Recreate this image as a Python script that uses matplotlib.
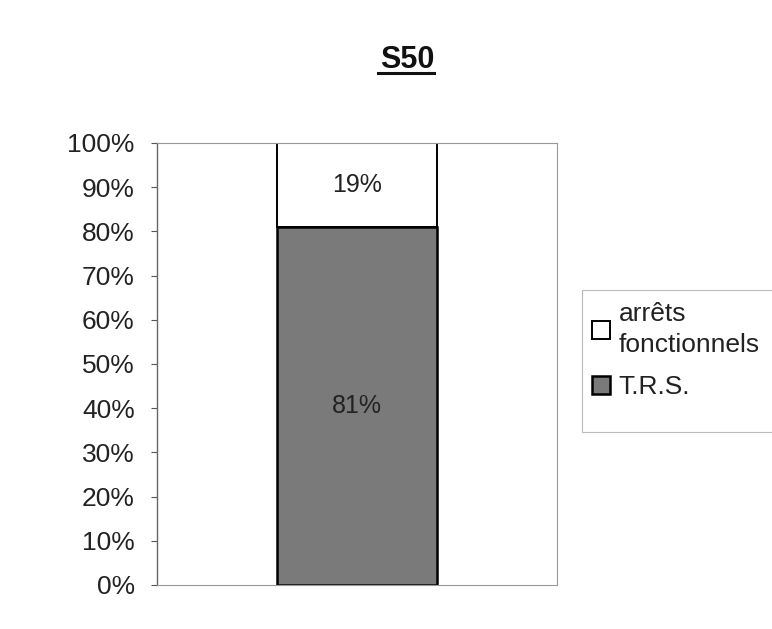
import matplotlib.pyplot as plt
import numpy as np
from matplotlib.lines import Line2D
from matplotlib.patches import Rectangle

plt.rcParams['font.family'] = ['Liberation Sans', 'DejaVu Sans']

# stacked shares for week S50
categories = ["S50"]
trs = np.array([81])
arrets = np.array([19])
series_labels = ["arrêts\nfonctionnels", "T.R.S."]
ticks = np.arange(0, 101, 10)

fig = plt.figure(figsize=(7.72, 6.29), dpi=100)
ax = fig.add_axes([0.2034, 0.070, 0.518, 0.7027])

x = np.arange(len(categories))
b1 = ax.bar(x, trs, width=0.4, color="#7a7a7a", edgecolor="black", linewidth=1.8,
            label=series_labels[1])
b2 = ax.bar(x, arrets, width=0.4, bottom=trs, color="white", edgecolor="black",
            linewidth=1.4, label=series_labels[0])

# value labels inside each segment
for i in range(len(categories)):
    ax.text(x[i], trs[i] / 2, f"{trs[i]}%", ha="center", va="center",
            fontsize=18, color="#222222")
    ax.text(x[i], trs[i] + arrets[i] / 2, f"{arrets[i]}%", ha="center",
            va="center", fontsize=18, color="#222222")

ax.set_xlim(-0.5, 0.5)
ax.set_ylim(0, 100)
ax.set_yticks(ticks)
ax.set_yticklabels([f"{t}%" for t in ticks], fontsize=19, color="#222222")
ax.set_xticks([])
ax.tick_params(axis="y", direction="out", length=4, width=0.8, color="#555555", pad=12)
for side in ["top", "right", "bottom"]:
    ax.spines[side].set_color("#999999")
    ax.spines[side].set_linewidth(0.8)
ax.spines["left"].set_color("#666666")
ax.spines["left"].set_linewidth(1.0)

# title with underline
fig.text(0.528, 0.904, "S50", ha="center", va="center", fontsize=22,
         fontweight="bold", color="#111111")
fig.add_artist(Line2D([0.490, 0.562], [0.884, 0.884], transform=fig.transFigure,
                      color="#111111", linewidth=2.2))

# legend box runs past the right edge
fig.add_artist(Rectangle((0.754, 0.313), 0.30, 0.226, transform=fig.transFigure,
                         facecolor="white", edgecolor="#bbbbbb", linewidth=0.8))
leg = fig.legend(handles=[b2, b1], labels=series_labels, loc="upper left",
                 bbox_to_anchor=(0.760, 0.528), frameon=False,
                 fontsize=19, borderpad=0.2, handlelength=0.7,
                 handleheight=0.7, handletextpad=0.3,
                 labelspacing=0.7, borderaxespad=0)
for t in leg.get_texts():
    t.set_color("#222222")
    t.set_linespacing(1.35)

fig.savefig("out.png", dpi=100)
